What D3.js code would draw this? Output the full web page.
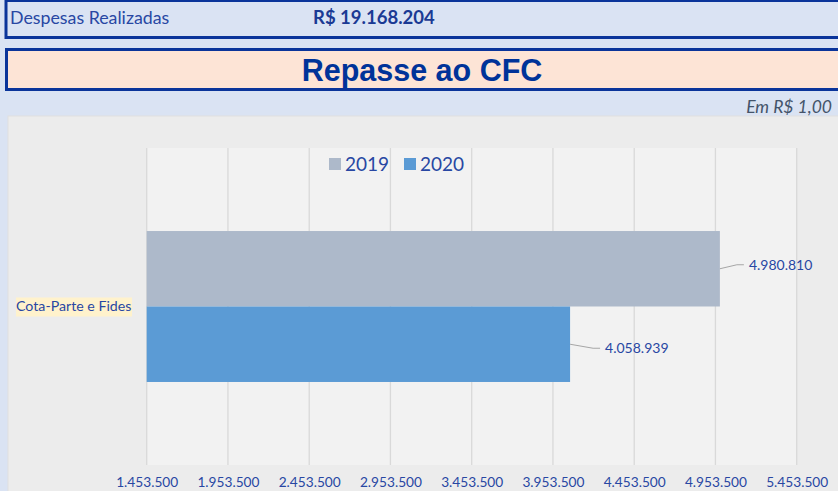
<!DOCTYPE html>
<html>
<head>
<meta charset="utf-8">
<script src="https://cdn.jsdelivr.net/npm/d3@7"></script>
<style>
  body { margin: 0; background: #dae3f3; }
  svg { display: block; }
</style>
</head>
<body>
<div id="chart"></div>
<script>
// data
const categories = ["Cota-Parte e Fides"];
const years = ["2019", "2020"];
const values2019 = [4980810];
const values2020 = [4058939];
const xTicks = [1453500, 1953500, 2453500, 2953500, 3453500, 3953500, 4453500, 4953500, 5453500];
const totalLabel = "Despesas Realizadas";
const totalValue = "R$ 19.168.204";
const title = "Repasse ao CFC";
const unitNote = "Em R$ 1,00";

const width = 838, height = 491;
const colors = {"2019": "#adb9ca", "2020": "#5b9bd5"};
const textBlue = "#2847a3";
const fmt = v => d3.format(",")(v).replace(/,/g, ".");

const svg = d3.select("#chart").append("svg")
    .attr("width", width)
    .attr("height", height)
    .attr("viewBox", [0, 0, width, height]);

svg.append("rect").attr("width", width).attr("height", height).attr("fill", "#dae3f3");

// header box
svg.append("rect")
    .attr("x", 6).attr("y", 0.5).attr("width", width + 10).attr("height", 37)
    .attr("fill", "#dae3f3").attr("stroke", "#0a349a").attr("stroke-width", 3);
svg.append("text")
    .attr("x", 10).attr("y", 24)
    .attr("font-family", "Lato, sans-serif").attr("font-size", 17.8)
    .attr("fill", textBlue).text(totalLabel);
svg.append("text")
    .attr("x", 313).attr("y", 24)
    .attr("font-family", "Lato, sans-serif").attr("font-size", 18.5).attr("font-weight", "bold")
    .attr("fill", "#1b3a94").text(totalValue);

// title box
svg.append("rect")
    .attr("x", 6.5).attr("y", 49.5).attr("width", width + 10).attr("height", 40)
    .attr("fill", "#fde4d6").attr("stroke", "#0a349a").attr("stroke-width", 3);
svg.append("text")
    .attr("x", 422).attr("y", 81)
    .attr("text-anchor", "middle")
    .attr("font-family", "'Liberation Sans', Arial, sans-serif").attr("font-size", 30.5).attr("font-weight", "bold")
    .attr("fill", "#003399").text(title);

// chart area
svg.append("rect")
    .attr("x", 8).attr("y", 116).attr("width", width).attr("height", height)
    .attr("fill", "#ececec").attr("stroke", "#e0e0e0");

// unit note, drawn after the chart area so the comma is not hidden
svg.append("text")
    .attr("x", 832).attr("y", 113)
    .attr("text-anchor", "end")
    .attr("font-family", "Lato, sans-serif").attr("font-size", 17.5).attr("font-style", "italic")
    .attr("fill", "#44546a").text(unitNote);

const plot = {left: 146.7, right: 796.7, top: 148, bottom: 465};
svg.append("rect")
    .attr("x", plot.left).attr("y", plot.top)
    .attr("width", plot.right - plot.left).attr("height", plot.bottom - plot.top)
    .attr("fill", "#f2f2f2");

const x = d3.scaleLinear()
    .domain([xTicks[0], xTicks[xTicks.length - 1]])
    .range([plot.left, plot.right]);

const y = d3.scaleBand()
    .domain(categories)
    .range([plot.top, plot.bottom])
    .paddingInner(0)
    .paddingOuter(0.55);

const ySub = d3.scaleBand()
    .domain(years)
    .range([0, y.bandwidth()]);

// gridlines
svg.append("g")
  .selectAll("line")
  .data(xTicks)
  .join("line")
    .attr("x1", d => x(d)).attr("x2", d => x(d))
    .attr("y1", plot.top).attr("y2", plot.bottom)
    .attr("stroke", "#d9d9d9").attr("stroke-width", 1.3);

// x axis
svg.append("g")
    .attr("transform", `translate(0,${plot.bottom})`)
    .call(d3.axisBottom(x).tickValues(xTicks).tickFormat(fmt).tickSize(0).tickPadding(12))
    .call(g => g.select(".domain").remove())
    .call(g => g.selectAll("text")
        .attr("font-family", "Lato, sans-serif")
        .attr("font-size", 13.7)
        .attr("fill", textBlue));

// bars
const series = years.map(yr => ({
  year: yr,
  values: yr === "2019" ? values2019 : values2020
}));

const bars = svg.append("g")
  .selectAll("g")
  .data(series)
  .join("g")
    .attr("fill", d => colors[d.year]);

bars.selectAll("rect")
  .data(d => d.values.map((v, i) => ({year: d.year, cat: categories[i], value: v})))
  .join("rect")
    .attr("x", x(xTicks[0]))
    .attr("y", d => y(d.cat) + ySub(d.year))
    .attr("width", d => x(d.value) - x(xTicks[0]))
    .attr("height", ySub.bandwidth());

// data labels with leader lines
const labelOffset = {"2019": {dx: 29, dy: -4}, "2020": {dx: 35, dy: 4}};
const labels = svg.append("g")
  .selectAll("g")
  .data(series.flatMap(s => s.values.map((v, i) => ({year: s.year, cat: categories[i], value: v}))))
  .join("g");

labels.append("path")
    .attr("d", d => {
      const x0 = x(d.value), y0 = y(d.cat) + ySub(d.year) + ySub.bandwidth() / 2;
      const o = labelOffset[d.year];
      return `M${x0},${y0}L${x0 + o.dx - 12},${y0 + o.dy}L${x0 + o.dx - 5},${y0 + o.dy}`;
    })
    .attr("fill", "none").attr("stroke", "#a6a6a6").attr("stroke-width", 1);

labels.append("text")
    .attr("x", d => x(d.value) + labelOffset[d.year].dx)
    .attr("y", d => y(d.cat) + ySub(d.year) + ySub.bandwidth() / 2 + labelOffset[d.year].dy)
    .attr("dy", "0.35em")
    .attr("font-family", "Lato, sans-serif").attr("font-size", 14)
    .attr("fill", textBlue)
    .text(d => fmt(d.value));

// category label
const catG = svg.append("g")
  .selectAll("g")
  .data(categories)
  .join("g")
    .attr("transform", d => `translate(16,${y(d) + y.bandwidth() / 2})`);
catG.append("rect")
    .attr("x", 0).attr("y", -9).attr("width", 116).attr("height", 19)
    .attr("fill", "#fff2cc");
catG.append("text")
    .attr("x", 0).attr("dy", "0.35em")
    .attr("font-family", "Lato, sans-serif").attr("font-size", 14.2)
    .attr("fill", textBlue)
    .text(d => d);

// legend
const legend = svg.append("g")
  .selectAll("g")
  .data(years)
  .join("g")
    .attr("transform", (d, i) => `translate(${329 + i * 75},164)`);
legend.append("rect")
    .attr("x", 0).attr("y", -6).attr("width", 12).attr("height", 12)
    .attr("fill", d => colors[d]);
legend.append("text")
    .attr("x", 16).attr("dy", "0.35em")
    .attr("font-family", "Lato, sans-serif").attr("font-size", 19)
    .attr("fill", textBlue)
    .text(d => d);
</script>
</body>
</html>
